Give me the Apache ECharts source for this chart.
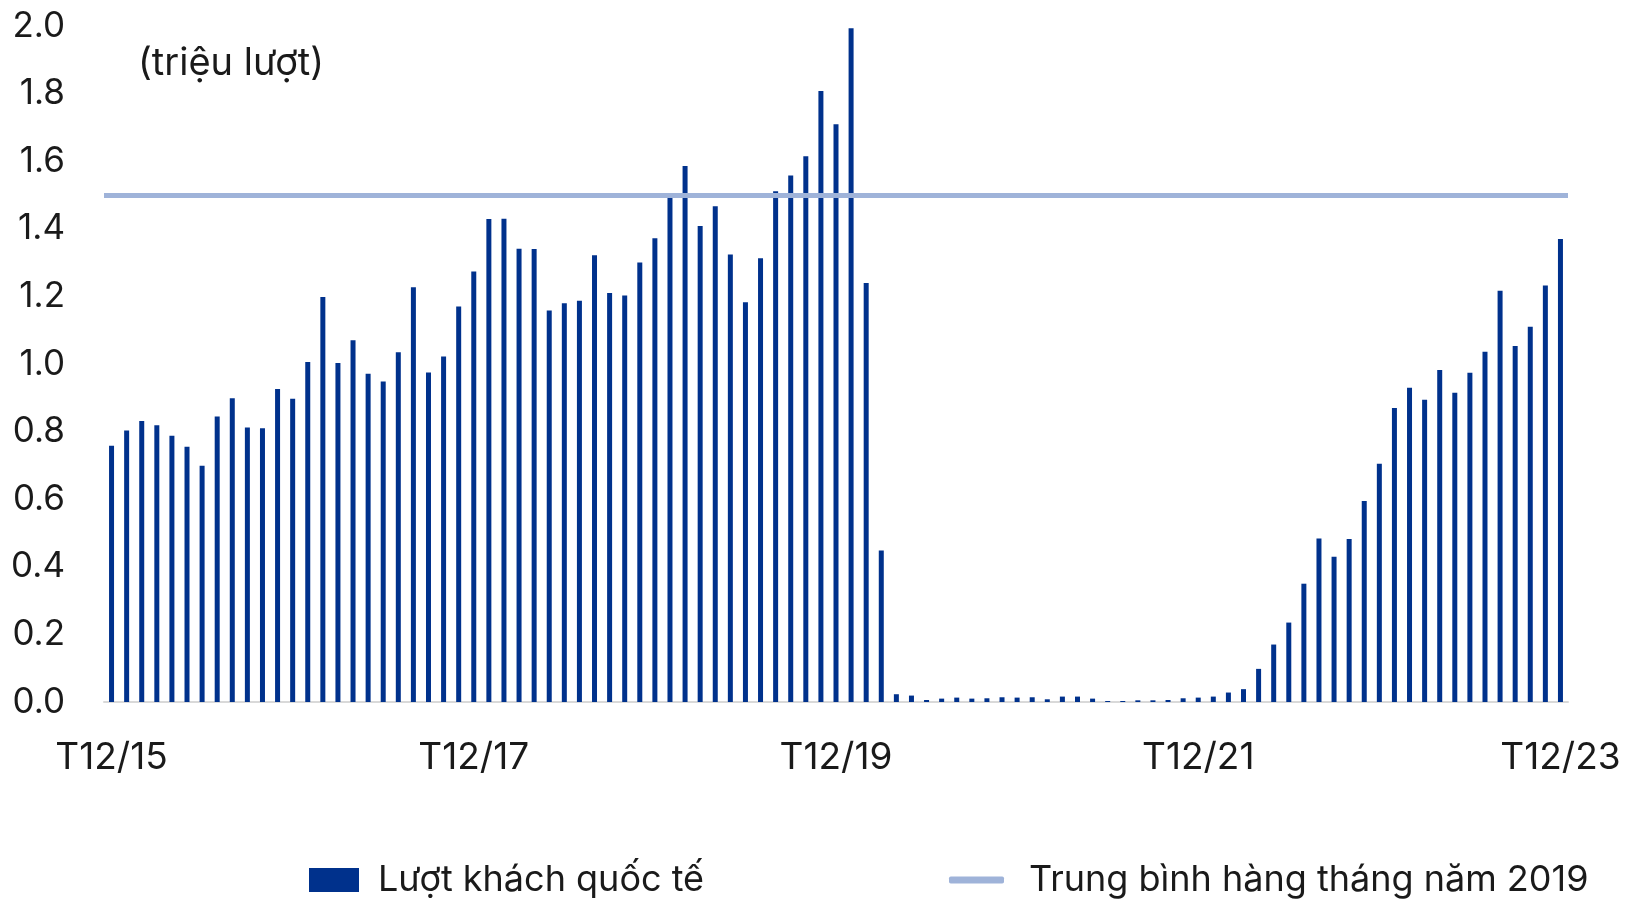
<!DOCTYPE html>
<html>
<head>
<meta charset="utf-8">
<script src="https://cdn.jsdelivr.net/npm/echarts@6/dist/echarts.min.js"></script>
<style>
  html, body { margin: 0; padding: 0; background: #fff; }
  #chart { width: 1634px; height: 903px; }
</style>
</head>
<body>
<div id="chart"></div>
<script>
// ====== Data ======
// months from T12/15 to T12/23
const months = [];
for (let y = 15; y <= 23; y++) {
  for (let m = 1; m <= 12; m++) {
    if (y === 15 && m < 12) continue;
    months.push('T' + m + '/' + y);
  }
}

// international arrivals, million per month
const visitors = [
  0.758, 0.803, 0.831, 0.819, 0.788, 0.755, 0.699, 0.845, 0.899, 0.812, 0.810, 0.926,
  0.897, 1.006, 1.198, 1.003, 1.070, 0.971, 0.948, 1.035, 1.227, 0.975, 1.022, 1.170,
  1.274, 1.429, 1.430, 1.341, 1.340, 1.158, 1.180, 1.187, 1.322, 1.210, 1.203, 1.300,
  1.372, 1.492, 1.586, 1.408, 1.467, 1.324, 1.183, 1.313, 1.511, 1.558, 1.615, 1.808,
  1.709, 1.993, 1.240, 0.448, 0.023, 0.019, 0.006, 0.010, 0.013, 0.010, 0.011, 0.014,
  0.013, 0.014, 0.008, 0.016, 0.016, 0.010, 0.003, 0.003, 0.005, 0.005, 0.006, 0.011,
  0.013, 0.016, 0.028, 0.038, 0.098, 0.170, 0.235, 0.350, 0.484, 0.430, 0.482, 0.595,
  0.705, 0.870, 0.930, 0.894, 0.982, 0.915, 0.974, 1.036, 1.217, 1.053, 1.110, 1.232,
  1.370
];

// monthly average 2019
const avg2019 = 1.5;

const barName = 'Lượt khách quốc tế';
const lineName = 'Trung bình hàng tháng năm 2019';

// ====== Chart ======
const chart = echarts.init(document.getElementById('chart'));
const FONT = 'Inter';
const labelEvery = (i) => i % 24 === 0;

chart.setOption({
  animation: false,
  grid: { left: 104, right: 66, top: 26, bottom: 201 },
  graphic: [{
    type: 'text',
    left: 138,
    top: 45,
    style: { text: '(triệu lượt)', font: '38px Inter', fill: '#1a1a1a' }
  }],
  legend: [
    {
      data: [barName],
      left: 304,
      top: 857,
      itemWidth: 50,
      itemHeight: 24,
      icon: 'rect',
      textStyle: { fontFamily: FONT, fontSize: 36, color: '#1a1a1a', padding: [0, 0, 0, 14] }
    },
    {
      data: [lineName],
      left: 944,
      top: 857,
      itemWidth: 55,
      itemHeight: 7,
      icon: 'roundRect',
      textStyle: { fontFamily: FONT, fontSize: 36, color: '#1a1a1a', padding: [0, 0, 0, 20] }
    }
  ],
  xAxis: {
    type: 'category',
    data: months,
    boundaryGap: true,
    axisLine: { lineStyle: { color: '#d9d9d9', width: 2 } },
    axisTick: { interval: labelEvery, length: 13, lineStyle: { color: '#d9d9d9', width: 2 } },
    axisLabel: {
      interval: labelEvery,
      margin: 37,
      fontFamily: FONT,
      fontSize: 37,
      color: '#1a1a1a'
    }
  },
  yAxis: {
    type: 'value',
    min: 0,
    max: 2,
    interval: 0.2,
    splitLine: { show: false },
    axisLine: { show: false },
    axisTick: { show: false },
    axisLabel: {
      margin: 39,
      fontFamily: FONT,
      fontSize: 35,
      color: '#1a1a1a',
      formatter: (v) => v.toFixed(1)
    }
  },
  series: [
    {
      name: barName,
      type: 'bar',
      data: visitors,
      barWidth: 5,
      itemStyle: { color: '#00318c' }
    },
    {
      name: lineName,
      type: 'line',
      data: [],
      itemStyle: { color: '#9fb3d9' },
      lineStyle: { color: '#9fb3d9', width: 5 },
      markLine: {
        silent: true,
        symbol: 'none',
        label: { show: false },
        lineStyle: { color: '#9fb3d9', width: 5, type: 'solid' },
        data: [{ yAxis: avg2019 }]
      }
    }
  ]
});
</script>
</body>
</html>
